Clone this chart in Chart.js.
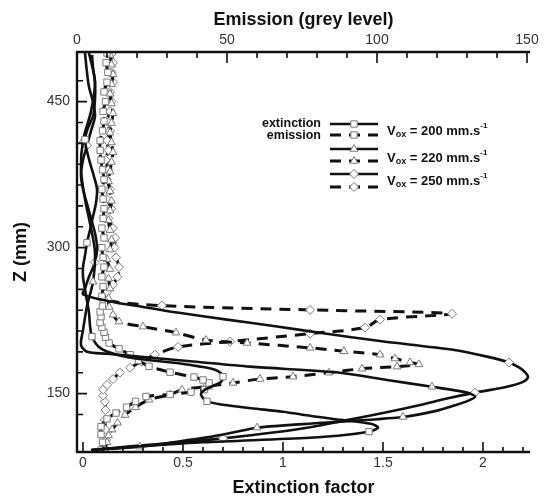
<!DOCTYPE html>
<html lang="en">
<head>
<meta charset="UTF-8">
<title>Extinction and emission profiles</title>
<script src="https://cdn.jsdelivr.net/npm/chart.js@4.4.1/dist/chart.umd.min.js"></script>
<style>
  body { margin: 0; background: #fff; }
  canvas { display: block; }
</style>
</head>
<body>
<canvas id="profiles" width="547" height="499"></canvas>
<script>
// Heights Z (mm) and the values, one pair of arrays per curve.

// extinction factor, Vox = 200 mm/s (squares)
const zExt200 = [92, 96, 100, 104.6, 108, 111, 115, 119, 123, 127, 131.4, 135, 138.6, 142, 146.8, 150, 154, 158, 162, 167.4,
                 171, 174.6, 178, 181, 185, 190, 197, 208.5, 220, 233, 245, 257, 270, 280, 292, 305, 318, 332, 346, 360,
                 373, 387, 399, 411, 423, 435, 452, 470, 485, 498];
const ext200 = [0.04, 0.3, 0.6, 1.135, 1.33, 1.43, 1.475, 1.44, 1.29, 1.14, 1.0, 0.84, 0.7, 0.62, 0.595, 0.59, 0.61, 0.65, 0.69, 0.7,
                0.69, 0.66, 0.58, 0.485, 0.305, 0.17, 0.085, 0.045, 0.035, 0.03, 0.02, 0.01, 0.0, 0.0, 0.01, 0.02, 0.035, 0.05, 0.065, 0.07,
                0.055, 0.035, 0.02, 0.01, 0.025, 0.05, 0.06, 0.06, 0.05, 0.045];
const ext200Marks = [5, 13, 19, 27, 35, 43];

// extinction factor, Vox = 220 mm/s (triangles)
const zExt220 = [92, 95.5, 100, 105, 110, 115, 120, 126, 132, 138, 143, 147, 151, 157, 164, 171.5, 177.7, 183, 187, 191,
                 193, 200, 215, 240, 265, 295, 320, 350, 380, 410, 440, 470, 500];
const ext220 = [0.04, 0.285, 0.45, 0.62, 0.75, 0.87, 1.2, 1.6, 1.76, 1.86, 1.93, 1.96, 1.92, 1.745, 1.52, 1.285, 0.835, 0.55, 0.33, 0.12,
                0.02, -0.01, 0.0, 0.02, 0.05, 0.06, 0.04, 0.01, -0.01, 0.0, 0.04, 0.06, 0.03];
const ext220Marks = [1, 5, 7, 13, 24, 29];

// extinction factor, Vox = 250 mm/s (diamonds)
const zExt250 = [92, 96, 100, 104, 110, 116, 122, 130, 138, 145, 151, 157, 162, 167, 172, 177, 182, 188, 195, 204,
                 212, 219, 226, 233, 239, 245, 252, 258, 270, 285, 300, 315, 330, 345, 360, 375, 390, 405, 420, 435,
                 450, 465, 480, 500];
const ext250 = [0.05, 0.25, 0.48, 0.7, 0.95, 1.15, 1.3, 1.5, 1.68, 1.82, 1.96, 2.12, 2.2, 2.225, 2.21, 2.18, 2.13, 2.02, 1.85, 1.485,
                1.2, 0.97, 0.72, 0.48, 0.3, 0.13, 0.0, 0.01, 0.03, 0.06, 0.07, 0.06, 0.04, 0.02, 0.0, -0.01, 0.0, 0.02, 0.04, 0.06,
                0.05, 0.03, 0.02, 0.01];
const ext250Marks = [3, 10, 16, 29, 37];

// emission (grey level), Vox = 200 mm/s
const zEm200 = [92, 100, 108, 116, 124, 130, 136, 142, 147, 149, 151.5, 154, 158, 161, 164, 167, 172, 178, 184, 190,
                196, 202, 208, 213, 218, 223, 229, 234, 240, 250, 260, 270, 280, 290, 300, 310, 320, 330, 340, 350,
                360, 370, 380, 390, 400, 410, 420, 430, 440, 450, 460, 470, 480, 490, 500];
const em200 = [8, 8.5, 8, 8, 10, 13, 16.5, 19.5, 23, 31, 38, 42.5, 44, 44, 42, 39, 31, 24, 20.5, 17.7,
               14, 10.7, 9.5, 9, 8.3, 7.7, 8, 7.7, 8.5, 8.3, 8.7, 8.3, 9, 8.7, 8.3, 9, 8.3, 8.7, 9, 8.7,
               8.3, 9, 8.5, 8, 7.7, 7.7, 8.5, 9, 8.7, 9.5, 9, 10, 10.3, 9.7, 10];

// emission (grey level), Vox = 220 mm/s
const zEm220 = [92, 100, 107, 113, 120, 128, 136, 143.7, 149, 154, 157, 161, 165, 167.4, 171.5, 175.6, 177.7, 180, 182, 186,
                190, 193.5, 197, 202, 205, 212.6, 218.8, 224, 231, 239, 248, 258, 268, 278, 288, 298, 308, 318, 328, 338,
                348, 358, 368, 378, 388, 398, 408, 418, 428, 438, 448, 458, 468, 478, 488, 498];
const em220 = [9.3, 10, 10.5, 11.7, 13.5, 16, 19.5, 24, 31, 35, 42.7, 52, 61, 72, 84, 95, 106.7, 114, 111, 106,
               101, 89, 77.7, 56.7, 43, 33, 22, 14, 12, 10.7, 10.5, 11, 10.5, 11, 10, 11, 11.5, 11, 10.5, 11,
               11.5, 11, 10.5, 11, 11.5, 12, 11.5, 11, 11.5, 12, 11.5, 11, 11.5, 12, 11.5, 11];

// emission (grey level), Vox = 250 mm/s
const zEm250 = [92, 102.6, 113, 123, 133, 141.7, 148, 154, 159, 165, 171.5, 176.6, 183, 190, 198, 203.4, 211.6, 217.8, 226, 232,
                236, 240.4, 246.5, 254, 262, 270, 280, 290, 300, 310, 320, 330, 340, 350, 360, 370, 380, 390, 400, 410,
                420, 430, 440, 450, 460, 470, 480, 490, 499];
const em250 = [9, 9.7, 9.5, 9.3, 9.5, 9.3, 8.7, 8.7, 10, 12, 14.3, 17.7, 21.5, 26, 33.7, 51, 77.7, 96, 101, 125,
               77.7, 28.3, 8.7, 10, 12, 13.5, 14, 13, 12.5, 12.7, 12, 10.5, 11.5, 10, 11, 10, 10.5, 9.5, 10.5, 10,
               11, 10, 11, 11.5, 11, 12, 11.5, 12, 11.5];

// tick labels
const zTicks = [150, 300, 450];
const extTicks = [0, 0.5, 1, 1.5, 2];
const emTicks = [0, 50, 100, 150];
const velocities = ['200', '220', '250'];

const INK = '#111';
const MARK_EDGE = '#7a7a7a';

function toPoints(zs, vals) {
    return zs.map((z, i) => ({ x: vals[i], y: z }));
}

function profile(label, zs, vals, axis, shape, marks) {
    const isEmission = axis === 'x2';
    return {
        label: label,
        data: toPoints(zs, vals),
        xAxisID: axis,
        yAxisID: 'y',
        showLine: true,
        borderColor: INK,
        borderWidth: isEmission ? 3 : 2.6,
        borderDash: isEmission ? [11, 8] : [],
        tension: 0.3,
        pointStyle: shape,
        pointBackgroundColor: '#fff',
        pointBorderColor: MARK_EDGE,
        pointBorderWidth: 1,
        pointRadius: marks ? (c => marks.includes(c.dataIndex) ? 4.5 : 0) : 4.5,
        pointHoverRadius: 0
    };
}

// inward ticks and the open frame (left, top, bottom)
const frameTicks = {
    id: 'frameTicks',
    afterDatasetsDraw(chart) {
        const { ctx, chartArea: a, scales } = chart;
        ctx.save();
        ctx.strokeStyle = INK;
        ctx.lineCap = 'butt';
        ctx.lineWidth = 2.4;
        ctx.beginPath();
        ctx.moveTo(a.right, a.top);
        ctx.lineTo(a.left, a.top);
        ctx.lineTo(a.left, a.bottom);
        ctx.lineTo(a.right, a.bottom);
        ctx.stroke();

        ctx.lineWidth = 1.6;
        ctx.beginPath();
        // bottom axis: extinction factor
        for (let v = 0; v <= 2.2001; v += 0.1) {
            const x = scales.x.getPixelForValue(v);
            const major = extTicks.some(t => Math.abs(t - v) < 1e-6);
            ctx.moveTo(x, a.bottom);
            ctx.lineTo(x, a.bottom - (major ? 10 : 5));
        }
        // top axis: emission
        for (let v = 0; v <= 150; v += 10) {
            const x = scales.x2.getPixelForValue(v);
            const major = emTicks.includes(v);
            ctx.moveTo(x, a.top);
            ctx.lineTo(x, a.top + (major ? 11 : 6));
        }
        // left axis: Z, seven minor steps per major step
        for (let k = -1; k <= 15; k++) {
            const v = 150 + k * 150 / 7;
            if (v <= scales.y.min || v >= scales.y.max) continue;
            const y = scales.y.getPixelForValue(v);
            const major = k % 7 === 0;
            ctx.moveTo(a.left, y);
            ctx.lineTo(a.left + (major ? 10 : 6), y);
        }
        ctx.stroke();
        ctx.restore();
    }
};

function sampleLine(ctx, ds, x1, x2, y) {
    ctx.save();
    ctx.strokeStyle = ds.borderColor;
    ctx.lineWidth = ds.borderWidth;
    ctx.setLineDash(ds.borderDash);
    ctx.beginPath();
    ctx.moveTo(x1, y);
    ctx.lineTo(x2, y);
    ctx.stroke();
    ctx.setLineDash([]);
    ctx.fillStyle = ds.pointBackgroundColor;
    ctx.strokeStyle = ds.pointBorderColor;
    ctx.lineWidth = ds.pointBorderWidth;
    Chart.helpers.drawPoint(ctx, { pointStyle: ds.pointStyle, radius: 4.5, rotation: 0, borderWidth: 1 }, (x1 + x2) / 2, y);
    ctx.restore();
}

function velocityLabel(ctx, x, y, v) {
    const fam = '"Liberation Sans", Arial, sans-serif';
    ctx.textAlign = 'left';
    ctx.textBaseline = 'middle';
    ctx.font = 'bold 13px ' + fam;
    ctx.fillText('V', x, y);
    x += ctx.measureText('V').width;
    ctx.font = 'bold 9px ' + fam;
    ctx.fillText('ox', x, y + 4);
    x += ctx.measureText('ox').width;
    ctx.font = 'bold 13px ' + fam;
    const main = ' = ' + v + ' mm.s';
    ctx.fillText(main, x, y);
    x += ctx.measureText(main).width;
    ctx.font = 'bold 8px ' + fam;
    ctx.fillText('-1', x, y - 5);
}

const profileLegend = {
    id: 'profileLegend',
    afterDraw(chart) {
        const ctx = chart.ctx;
        const sets = chart.data.datasets;
        ctx.save();
        ctx.fillStyle = INK;
        ctx.font = 'bold 12.5px "Liberation Sans", Arial, sans-serif';
        ctx.textAlign = 'right';
        ctx.textBaseline = 'middle';
        ctx.fillText('extinction', 321, 124);
        ctx.fillText('emission', 321, 136);
        const solidY = [124, 149, 174];
        const dashY = [135, 161, 187];
        const labelY = [131, 158, 181];
        for (let i = 0; i < 3; i++) {
            sampleLine(ctx, sets[i], 330, 378, solidY[i]);
            sampleLine(ctx, sets[i + 3], 330, 378, dashY[i]);
            ctx.fillStyle = INK;
            velocityLabel(ctx, 387, labelY[i], velocities[i]);
        }
        ctx.restore();
    }
};

Chart.defaults.font.family = '"Liberation Sans", Arial, sans-serif';
Chart.defaults.color = '#333';

const titleFont = { size: 18, weight: 'bold' };
const tickFont = { size: 14 };

new Chart(document.getElementById('profiles'), {
    type: 'scatter',
    data: {
        datasets: [
            profile('extinction 200', zExt200, ext200, 'x', 'rect', ext200Marks),
            profile('extinction 220', zExt220, ext220, 'x', 'triangle', ext220Marks),
            profile('extinction 250', zExt250, ext250, 'x', 'rectRot', ext250Marks),
            profile('emission 200', zEm200, em200, 'x2', 'rect', null),
            profile('emission 220', zEm220, em220, 'x2', 'triangle', null),
            profile('emission 250', zEm250, em250, 'x2', 'rectRot', null)
        ]
    },
    options: {
        responsive: false,
        animation: false,
        layout: { padding: { left: 0, right: 17, top: 0, bottom: 0 } },
        plugins: {
            legend: { display: false },
            tooltip: { enabled: false }
        },
        scales: {
            x: {
                type: 'linear',
                position: 'bottom',
                min: -0.03,
                max: 2.235,
                afterBuildTicks: s => { s.ticks = extTicks.map(v => ({ value: v })); },
                afterFit: s => { s.height = 47; },
                grid: { display: false, drawTicks: false },
                border: { display: false },
                ticks: { padding: 3, font: tickFont, color: '#333', callback: v => String(v) },
                title: { display: true, text: 'Extinction factor', color: INK, font: titleFont, padding: { top: 0, bottom: 0 } }
            },
            x2: {
                type: 'linear',
                position: 'top',
                min: 0,
                max: 151,
                afterBuildTicks: s => { s.ticks = emTicks.map(v => ({ value: v })); },
                afterFit: s => { s.height = 52; },
                grid: { display: false, drawTicks: false },
                border: { display: false },
                ticks: { padding: 3, font: tickFont, color: '#333', callback: v => String(v) },
                title: { display: true, text: 'Emission (grey level)', color: INK, font: titleFont, padding: { top: 9, bottom: 0 } }
            },
            y: {
                type: 'linear',
                position: 'left',
                min: 90,
                max: 501,
                afterBuildTicks: s => { s.ticks = zTicks.map(v => ({ value: v })); },
                afterFit: s => { s.width = 77; },
                grid: { display: false, drawTicks: false },
                border: { display: false },
                ticks: { padding: 7, font: tickFont, color: '#333', callback: v => String(v) },
                title: { display: true, text: 'Z (mm)', color: INK, font: titleFont, padding: { top: 10, bottom: 0 } }
            }
        }
    },
    plugins: [frameTicks, profileLegend]
});
</script>
</body>
</html>
